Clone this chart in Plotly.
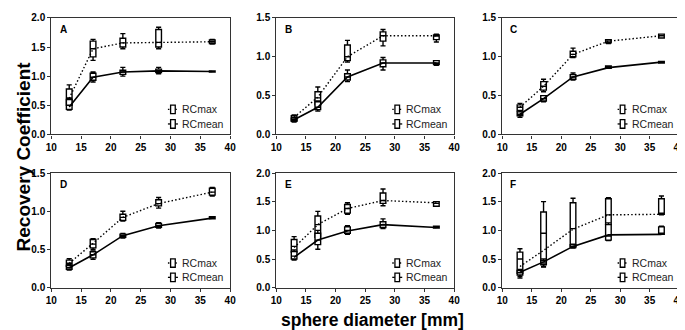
import plotly.graph_objects as go

diam = [13, 17, 22, 28, 37]
panel_labels = ["A", "B", "C", "D", "E", "F"]
y_max = [2.0, 1.5, 1.5, 1.5, 2.0, 2.0]

# box stats per diameter: [lower whisker, q1, median, q3, upper whisker]
A_max = [[0.45, 0.50, 0.62, 0.78, 0.85], [1.27, 1.33, 1.47, 1.60, 1.63], [1.47, 1.50, 1.57, 1.65, 1.73], [1.47, 1.50, 1.58, 1.80, 1.84], [1.55, 1.56, 1.59, 1.62, 1.63]]
A_mean = [[0.42, 0.43, 0.50, 0.60, 0.62], [0.90, 0.93, 0.98, 1.05, 1.07], [1.00, 1.03, 1.07, 1.10, 1.15], [1.04, 1.06, 1.09, 1.12, 1.15], [1.07, 1.07, 1.08, 1.09, 1.09]]
A_max_line = [0.62, 1.47, 1.57, 1.58, 1.59]
A_mean_line = [0.47, 0.98, 1.07, 1.09, 1.08]

B_max = [[0.17, 0.18, 0.21, 0.24, 0.25], [0.33, 0.38, 0.47, 0.55, 0.61], [0.93, 0.95, 1.00, 1.15, 1.21], [1.14, 1.20, 1.27, 1.32, 1.35], [1.19, 1.22, 1.27, 1.28, 1.29]]
B_mean = [[0.16, 0.17, 0.19, 0.21, 0.22], [0.30, 0.32, 0.35, 0.42, 0.43], [0.68, 0.70, 0.74, 0.78, 0.83], [0.83, 0.87, 0.92, 0.96, 0.99], [0.89, 0.90, 0.92, 0.95, 0.95]]
B_max_line = [0.22, 0.48, 1.00, 1.27, 1.27]
B_mean_line = [0.19, 0.35, 0.74, 0.92, 0.92]

C_max = [[0.28, 0.30, 0.35, 0.38, 0.40], [0.55, 0.57, 0.62, 0.68, 0.71], [0.99, 1.00, 1.03, 1.07, 1.11], [1.17, 1.18, 1.20, 1.22, 1.22], [1.24, 1.24, 1.27, 1.29, 1.29]]
C_mean = [[0.22, 0.24, 0.26, 0.29, 0.31], [0.42, 0.43, 0.46, 0.50, 0.50], [0.70, 0.71, 0.74, 0.77, 0.79], [0.85, 0.85, 0.86, 0.88, 0.88], [0.92, 0.92, 0.93, 0.94, 0.94]]
C_max_line = [0.35, 0.62, 1.03, 1.20, 1.27]
C_mean_line = [0.26, 0.46, 0.74, 0.86, 0.93]

D_max = [[0.26, 0.28, 0.32, 0.36, 0.38], [0.50, 0.52, 0.57, 0.63, 0.64], [0.87, 0.88, 0.92, 0.96, 1.00], [1.04, 1.07, 1.10, 1.15, 1.18], [1.20, 1.21, 1.25, 1.30, 1.31]]
D_mean = [[0.23, 0.24, 0.26, 0.29, 0.30], [0.37, 0.39, 0.43, 0.47, 0.48], [0.65, 0.66, 0.68, 0.70, 0.71], [0.78, 0.79, 0.81, 0.84, 0.85], [0.90, 0.90, 0.91, 0.93, 0.93]]
D_max_line = [0.32, 0.58, 0.92, 1.10, 1.25]
D_mean_line = [0.26, 0.43, 0.68, 0.81, 0.91]

E_max = [[0.57, 0.62, 0.72, 0.84, 0.89], [0.80, 0.88, 1.10, 1.25, 1.33], [1.28, 1.30, 1.38, 1.45, 1.48], [1.43, 1.47, 1.52, 1.65, 1.72], [1.42, 1.42, 1.47, 1.50, 1.50]]
E_mean = [[0.48, 0.50, 0.55, 0.63, 0.66], [0.67, 0.75, 0.83, 0.95, 1.00], [0.93, 0.95, 1.00, 1.06, 1.08], [1.03, 1.05, 1.10, 1.15, 1.20], [1.04, 1.04, 1.05, 1.07, 1.07]]
E_max_line = [0.70, 1.10, 1.38, 1.52, 1.48]
E_mean_line = [0.53, 0.83, 0.99, 1.10, 1.05]

F_max = [[0.20, 0.25, 0.50, 0.62, 0.68], [0.37, 0.45, 0.95, 1.32, 1.50], [0.70, 0.72, 1.03, 1.48, 1.56], [1.05, 1.10, 1.27, 1.55, 1.57], [1.27, 1.28, 1.30, 1.55, 1.60]]
F_mean = [[0.17, 0.22, 0.26, 0.30, 0.32], [0.36, 0.40, 0.43, 0.47, 0.50], [0.69, 0.70, 0.72, 0.75, 0.76], [0.82, 0.83, 0.90, 1.10, 1.13], [0.93, 0.93, 0.95, 1.06, 1.07]]
F_max_line = [0.37, 0.65, 1.02, 1.27, 1.28]
F_mean_line = [0.27, 0.45, 0.72, 0.92, 0.93]

series_max = [A_max, B_max, C_max, D_max, E_max, F_max]
series_mean = [A_mean, B_mean, C_mean, D_mean, E_mean, F_mean]
lines_max = [A_max_line, B_max_line, C_max_line, D_max_line, E_max_line, F_max_line]
lines_mean = [A_mean_line, B_mean_line, C_mean_line, D_mean_line, E_mean_line, F_mean_line]

W, H = 685, 330
col_px = [(38, 220), (267, 448), (497, 677)]
row_px = [(4, 125), (165, 284)]

FONT = "Liberation Sans, Arial, sans-serif"
DOT = "1.5px,2.2px"
fig = go.Figure()
layout = dict(
    width=W, height=H, margin=dict(l=0, r=0, t=0, b=0),
    paper_bgcolor="white", plot_bgcolor="white", showlegend=False,
    font=dict(family=FONT, color="black"),
)
annotations = []
shapes = []

for i in range(6):
    r, c = divmod(i, 3)
    n = i + 1
    xa = "x" if n == 1 else f"x{n}"
    ya = "y" if n == 1 else f"y{n}"
    x0, x1 = col_px[c]
    y0, y1 = row_px[r]
    layout[f"xaxis{'' if n == 1 else n}"] = dict(
        domain=[x0 / W, x1 / W], anchor=ya, range=[10, 40], tickvals=[10, 15, 20, 25, 30, 35, 40],
        showline=True, mirror=True, linecolor="#333", linewidth=1.2, ticks="outside", ticklen=3,
        tickcolor="#333", showgrid=False, zeroline=False,
        tickfont=dict(size=10, family=FONT, weight="bold"),
    )
    ym = y_max[i]
    tv = [k * 0.5 for k in range(int(ym / 0.5) + 1)]
    layout[f"yaxis{'' if n == 1 else n}"] = dict(
        domain=[1 - y1 / H, 1 - y0 / H], anchor=xa, range=[0, ym], tickvals=tv,
        ticktext=[f"{v:.1f}" for v in tv],
        showline=True, mirror=True, linecolor="#333", linewidth=1.2, ticks="outside", ticklen=3,
        tickcolor="#333", showgrid=False, zeroline=False,
        tickfont=dict(size=10, family=FONT, weight="bold"),
    )
    # connecting lines
    fig.add_trace(go.Scatter(x=diam, y=lines_max[i], mode="lines", line=dict(color="black", width=1.4, dash=DOT),
                             xaxis=xa, yaxis=ya, hoverinfo="skip"))
    fig.add_trace(go.Scatter(x=diam, y=lines_mean[i], mode="lines", line=dict(color="black", width=1.6),
                             xaxis=xa, yaxis=ya, hoverinfo="skip"))
    for stats in (series_max[i], series_mean[i]):
        fig.add_trace(go.Box(
            x=diam,
            lowerfence=[s[0] for s in stats], q1=[s[1] for s in stats], median=[s[2] for s in stats],
            q3=[s[3] for s in stats], upperfence=[s[4] for s in stats],
            width=0.95, whiskerwidth=0.9, fillcolor="white", line=dict(color="black", width=1.4),
            xaxis=xa, yaxis=ya, boxpoints=False,
        ))
    xd = "x domain" if n == 1 else f"x{n} domain"
    yd = "y domain" if n == 1 else f"y{n} domain"
    annotations.append(dict(text=f"<b>{panel_labels[i]}</b>", x=0.035, y=0.90, xref=xd, yref=yd,
                            xanchor="left", yanchor="middle", showarrow=False, font=dict(size=10, family=FONT)))
    # legend
    for k, (lbl, dash) in enumerate([("RCmax", DOT), ("RCmean", "solid")]):
        ly = 0.215 - k * 0.125
        shapes.append(dict(type="line", xref=xd, yref=yd, x0=0.652, x1=0.708, y0=ly, y1=ly,
                           line=dict(color="black", width=1.3, dash=dash)))
        shapes.append(dict(type="rect", xref=xd, yref=yd, x0=0.667, x1=0.693, y0=ly - 0.037, y1=ly + 0.037,
                           fillcolor="white", line=dict(color="black", width=1.3)))
        annotations.append(dict(text=lbl, x=0.72, y=ly, xref=xd, yref=yd, xanchor="left", yanchor="middle",
                                showarrow=False, font=dict(size=10.5, family=FONT, color="#222")))

annotations.append(dict(text="<b>Recovery Coefficient</b>", x=10 / W, y=1 - 148 / H, xref="paper", yref="paper",
                        textangle=-90, showarrow=False, font=dict(size=19, family=FONT), xanchor="center", yanchor="middle"))
annotations.append(dict(text="<b>sphere diameter [mm]</b>", x=365 / W, y=1 - 318 / H, xref="paper", yref="paper",
                        showarrow=False, font=dict(size=17.5, family=FONT), xanchor="center", yanchor="middle"))
layout["annotations"] = annotations
layout["shapes"] = shapes
layout["boxmode"] = "overlay"
fig.update_layout(**layout)
fig.write_html("out.html")
